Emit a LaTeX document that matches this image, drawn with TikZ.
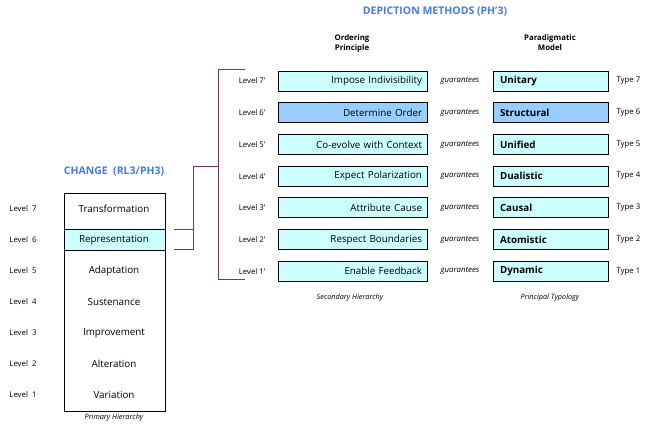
\documentclass[tikz,border=0pt]{standalone}
\usepackage{fontspec}
\setmainfont{Open Sans}
\usetikzlibrary{positioning}
\definecolor{paleCyan}{RGB}{204,255,255}
\definecolor{midBlue}{RGB}{153,204,255}
\definecolor{headBlue}{RGB}{70,120,240}
\definecolor{linkPurple}{RGB}{130,50,90}
\begin{document}
\begin{tikzpicture}[x=1pt,y=-1pt,
  lvl/.style={font=\fontsize{7.8}{9}\selectfont},
  typ/.style={font=\fontsize{7.8}{9}\selectfont, anchor=west},
  gua/.style={font=\itshape\fontsize{7.8}{9}\selectfont},
  ordbox/.style={draw, thick, fill=paleCyan, minimum width=149pt, minimum height=20pt,
    text width=139pt, align=right, font=\fontsize{9.8}{11}\selectfont, inner sep=0pt},
  modbox/.style={draw, thick, fill=paleCyan, minimum width=115pt, minimum height=20pt,
    text width=101pt, align=left, font=\bfseries\fontsize{9.8}{11}\selectfont, inner sep=0pt},
  chg/.style={font=\fontsize{9.8}{11}\selectfont},
  head/.style={font=\bfseries\fontsize{10.5}{12}\selectfont, text=headBlue},
  sub/.style={font=\bfseries\fontsize{7.8}{10}\selectfont, align=center},
  foot/.style={font=\itshape\fontsize{7.3}{9}\selectfont},
  link/.style={draw=linkPurple, thick}]
  \useasboundingbox (0,0) rectangle (650,426);

  % headers
  \node[head] (hdep) at (435,12) {DEPICTION METHODS (PH'3)};
  \node[head] (hchg) at (114,172) {CHANGE\ \ (RL3/PH3)};
  \node[sub]  (hord) at (352,43) {Ordering\\Principle};
  \node[sub]  (hmod) at (550,43) {Paradigmatic\\Model};

  % primary hierarchy
  \fill[paleCyan] (64,229) rectangle (165,250);
  \draw[thick] (64,193) rectangle (165,411);
  \draw[thick] (64,229) -- (165,229) (64,250) -- (165,250);
  \foreach \n/\t [count=\i] in {7/Transformation,6/Representation,5/Adaptation,4/Sustenance,
      3/Improvement,2/Alteration,1/Variation} {
    \pgfmathsetmacro\yy{209+31*(\i-1)}
    \node[chg] (c\n) at (114,\yy) {\t};
    \node[lvl] (l\n) at (23,\yy) {Level \ \n};
  }
  \node[foot] (fprim) at (114,418) {Primary Hierarchy};

  % secondary hierarchy and typology
  \foreach \n/\o/\m [count=\i] in {7/Impose Indivisibility/Unitary,6/Determine Order/Structural,
      5/Co-evolve with Context/Unified,4/Expect Polarization/Dualistic,3/Attribute Cause/Causal,
      2/Respect Boundaries/Atomistic,1/Enable Feedback/Dynamic} {
    \pgfmathsetmacro\yy{81+31.7*(\i-1)}
    \node[ordbox] (o\n) at (352.5,\yy) {\o};
    \node[modbox] (m\n) at (550.5,\yy) {\m};
    \node[lvl] (s\n) at (252,\yy) {Level \n'};
    \node[gua] (g\n) at (460,\yy) {guarantees};
    \node[typ] (t\n) at (613,\yy) {Type \n};
  }
  \node[ordbox, fill=midBlue] at (o6) {Determine Order};
  \node[modbox, fill=midBlue] at (m6) {Structural};
  \node[foot] (fsec) at (350,298) {Secondary Hierarchy};
  \node[foot] (ftyp) at (550,298) {Principal Typology};

  % bracket links
  \coordinate (ja) at (174,229);
  \coordinate (jb) at (174,249);
  \coordinate (jt) at (245,69);
  \coordinate (jd) at (245,279);
  \draw[link] (ja) -- (193,229) (jb) -| (193,166) -- (218,166);
  \draw[link] (jt) -- (218,69) |- (jd);
\end{tikzpicture}
\end{document}
